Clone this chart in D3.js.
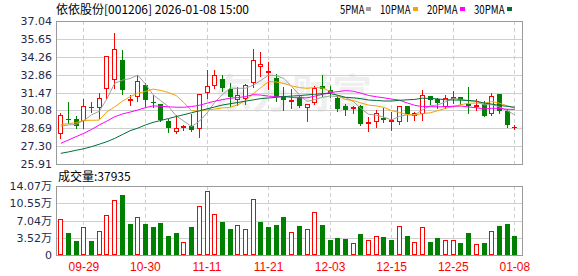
<!DOCTYPE html>
<html>
<head>
<meta charset="utf-8">
<script src="https://cdn.jsdelivr.net/npm/d3@7"></script>
<style>
  body { margin: 0; background: #fff; }
  svg { display: block; }
</style>
</head>
<body>
<div id="chart"></div>
<script>
const dates = ['09-24','09-25','09-26','09-29','10-21','10-22','10-23','10-24','10-27','10-28',
  '10-29','10-30','10-31','11-03','11-04','11-05','11-06','11-07','11-10','11-11',
  '11-12','11-13','11-14','11-17','11-18','11-19','11-20','11-21','11-24','11-25',
  '11-26','11-27','11-28','12-01','12-02','12-03','12-04','12-05','12-08','12-09',
  '12-10','12-11','12-12','12-15','12-16','12-17','12-18','12-19','12-22','12-23',
  '12-24','12-25','12-26','12-29','12-30','12-31','01-05','01-06','01-07','01-08'];
const opens = [28.22,29.45,29.39,29.26,30.38,30.24,31.77,32.42,34.00,30.79,
  31.13,32.06,30.70,30.55,29.26,28.43,28.74,28.87,28.61,31.44,
  31.98,32.53,31.75,30.92,30.94,32.19,33.49,32.97,32.63,31.20,
  30.71,31.15,30.30,30.63,31.98,31.64,31.07,30.43,30.22,30.43,
  29.00,29.21,29.52,29.15,29.21,30.40,29.65,29.83,31.18,30.94,
  30.35,31.00,31.13,30.61,30.35,30.55,29.78,31.33,30.04,28.78];
const highs = [29.91,30.74,29.65,30.94,30.74,31.46,34.35,36.13,34.76,31.28,
  32.84,32.24,31.28,30.60,29.39,29.72,28.95,29.78,31.39,33.23,
  33.23,32.84,32.19,31.88,32.11,34.86,34.60,33.88,32.92,31.88,
  31.72,31.20,30.55,31.96,32.84,31.96,31.18,30.55,30.40,30.50,
  29.57,30.09,30.24,29.98,30.43,30.43,29.98,31.64,31.20,31.02,
  31.28,31.59,31.13,31.90,30.94,30.81,31.44,31.33,30.17,28.95];
const lows = [27.91,29.13,28.69,28.74,29.96,29.52,31.07,31.85,31.39,30.50,
  30.81,30.43,30.37,29.26,28.43,28.35,28.53,28.48,28.04,31.07,
  31.85,31.62,30.40,30.50,30.61,31.93,32.79,31.72,30.84,30.11,
  30.30,30.37,29.26,30.55,31.20,31.15,30.04,29.72,29.91,28.95,
  28.48,28.79,29.21,28.56,29.05,29.26,29.34,29.34,30.61,30.24,
  30.24,30.68,30.55,29.91,30.09,29.67,29.72,29.91,28.79,28.61];
const closes = [29.70,29.38,28.87,30.40,30.33,31.07,34.29,34.84,31.64,30.97,
  32.37,30.87,30.63,29.31,28.74,28.69,28.84,28.53,31.39,31.96,
  32.84,31.80,31.10,31.28,32.03,34.00,33.67,33.15,31.10,30.88,
  30.92,30.45,30.55,31.85,31.72,31.46,30.20,30.15,30.37,29.00,
  29.18,29.85,29.36,29.30,30.40,29.78,29.85,31.28,30.92,30.68,
  31.07,31.12,30.87,30.43,30.47,29.67,31.18,30.04,28.95,28.80];
const volumes = [72700,45600,29200,56400,29200,48200,80900,111500,122300,63200,
  76800,63200,57100,65300,38700,45600,26500,57100,99200,129800,
  83600,67300,53000,60500,52300,113500,67300,57100,61200,77500,
  46900,59100,53000,87700,61200,30600,34700,32600,24500,42800,
  30600,38100,36700,30600,59100,38700,26500,56400,26500,34700,
  30600,30600,24500,44900,22400,24500,48200,59100,63200,37935];

const ma5Head = [28.85,28.95,29.00,29.30];
const ma10Head = [28.98,29.05,29.13,29.31,29.31,29.33,29.98,30.35,30.80];
const ma20Head = [27.52,27.78,28.04,28.30,28.60,28.95,29.25,29.59,29.80,29.95,
  30.11,30.30,30.43,30.40,30.36,30.33,30.33,30.38,30.48];
const ma30Head = [26.74,26.85,26.98,27.10,27.26,27.45,27.65,27.90,28.20,28.50,
  28.70,28.95,29.15,29.30,29.45,29.60,29.75,29.90,30.05,30.20,
  30.35,30.50,30.60,30.70,30.80,30.90,31.00,31.05,31.10];

const priceTicks = [25.91,27.30,28.69,30.08,31.47,32.86,34.26,35.65,37.04];
const volTicks = [0,35175,70350,105525,140700];
const volTickLabels = ['0','3.52万','7.04万','10.55万','14.07万'];
const tickDates = ['09-29','10-30','11-11','11-21','12-03','12-15','12-25','01-08'];
const maSeries = [
  {name: '5PMA', n: 5, head: ma5Head, color: '#a0a0a0'},
  {name: '10PMA', n: 10, head: ma10Head, color: '#f5a300'},
  {name: '20PMA', n: 20, head: ma20Head, color: '#ff00ff'},
  {name: '30PMA', n: 30, head: ma30Head, color: '#00703a'}
];

const width = 578, height = 276;
const left = 56, right = 522;
const pTop = 21, pBot = 164, vTop = 186, vBot = 255;
const RED = '#ff0000', GREEN = '#008000';
const GRID = '#cfcfcf', BORDER = '#9a9a9a';

const rows = dates.map((d, i) => ({
  date: d, o: opens[i], h: highs[i], l: lows[i], c: closes[i], v: volumes[i],
  volUp: i === 0 ? closes[i] >= opens[i] : closes[i] >= closes[i - 1]
}));

const svg = d3.select('#chart').append('svg')
  .attr('width', width).attr('height', height)
  .style('font-family', '"Liberation Sans", Arial, sans-serif');

const x = d3.scalePoint().domain(dates).range([left + 4.3, right - 7.7]);
const y = d3.scaleLinear().domain([25.91, 37.04]).range([pBot, pTop]);
const yv = d3.scaleLinear().domain([0, 140700]).range([vBot, vTop]);
const cx = d => Math.round(x(d.date));

// header
svg.append('text').attr('x', 56).attr('y', 14)
  .style('font-family', '"Noto Sans CJK SC", sans-serif').style('font-size', '12px')
  .text('依依股份[001206] 2026-01-08 15:00');

// legend, half-width glyphs like the original bitmap font
let lx = 340;
maSeries.forEach(s => {
  const w = s.name.length * 6.1;
  svg.append('text').attr('x', lx).attr('y', 14)
    .attr('textLength', w).attr('lengthAdjust', 'spacingAndGlyphs')
    .style('font-family', '"Noto Sans CJK SC", sans-serif').style('font-size', '12px')
    .text(s.name);
  const sx = Math.round(lx + w + 2);
  svg.append('rect').attr('x', sx).attr('y', 7)
    .attr('width', 5).attr('height', 4).attr('fill', s.color);
  lx = sx + 5 + 9;
});

// watermark
svg.append('text').attr('x', 212).attr('y', 108)
  .style('font-family', '"Noto Sans CJK SC", sans-serif').style('font-size', '40px')
  .style('font-weight', 'bold').attr('fill', '#efefef')
  .text('东方财富');

// grids
function panel(top, bot, ticks, scale) {
  const gg = svg.append('g').attr('shape-rendering', 'crispEdges');
  gg.selectAll('line.h').data(ticks).join('line')
    .attr('x1', left).attr('x2', right)
    .attr('y1', d => Math.round(scale(d)) + 0.5).attr('y2', d => Math.round(scale(d)) + 0.5)
    .attr('stroke', GRID);
  gg.selectAll('line.v').data(tickDates).join('line')
    .attr('x1', d => Math.round(x(d)) + 0.5).attr('x2', d => Math.round(x(d)) + 0.5)
    .attr('y1', top).attr('y2', bot)
    .attr('stroke', GRID).attr('stroke-dasharray', '4,3');
  gg.append('rect').attr('x', left + 0.5).attr('y', top + 0.5)
    .attr('width', right - left).attr('height', bot - top)
    .attr('fill', 'none').attr('stroke', BORDER);
}
panel(pTop, pBot, priceTicks, y);
panel(vTop, vBot, volTicks, yv);

// axes labels
const yAxis = d3.axisLeft(y).tickValues(priceTicks).tickSize(0).tickPadding(4)
  .tickFormat(d => d.toFixed(2));
svg.append('g').attr('transform', `translate(${left},0)`).call(yAxis)
  .call(g => g.select('.domain').remove())
  .selectAll('text').style('font-family', '"DejaVu Sans", sans-serif')
  .style('font-size', '11px').attr('fill', '#1c2a4e');

const vAxis = d3.axisLeft(yv).tickValues(volTicks).tickSize(0).tickPadding(4)
  .tickFormat((d, i) => volTickLabels[i]);
svg.append('g').attr('transform', `translate(${left},0)`).call(vAxis)
  .call(g => g.select('.domain').remove())
  .selectAll('text').style('font-family', '"DejaVu Sans", "Noto Sans CJK SC", sans-serif')
  .style('font-size', '11px').attr('fill', '#1c2a4e');

const xAxis = d3.axisBottom(x).tickValues(tickDates).tickSize(0).tickPadding(7);
svg.append('g').attr('transform', `translate(0,${vBot})`).call(xAxis)
  .call(g => g.select('.domain').remove())
  .selectAll('text').style('font-family', '"Liberation Sans", Arial, sans-serif')
  .style('font-size', '12px').attr('fill', RED);

svg.append('text').attr('x', 58).attr('y', 181)
  .style('font-family', '"Noto Sans CJK SC", sans-serif').style('font-size', '12px')
  .text('成交量:' + volumes[volumes.length - 1]);

// candles
const cg = svg.append('g').attr('shape-rendering', 'crispEdges');
cg.selectAll('line.wick').data(rows).join('line')
  .attr('x1', d => cx(d) + 0.5).attr('x2', d => cx(d) + 0.5)
  .attr('y1', d => Math.round(y(d.h))).attr('y2', d => Math.round(y(d.l)) + 1)
  .attr('stroke', d => d.c >= d.o ? RED : GREEN);
cg.selectAll('rect.body').data(rows).join('rect')
  .each(function(d) {
    const top = Math.round(y(Math.max(d.o, d.c)));
    const bot = Math.round(y(Math.min(d.o, d.c)));
    const r = d3.select(this);
    if (d.c >= d.o && bot - top >= 2) {
      r.attr('x', cx(d) - 1.5).attr('y', top + 0.5).attr('width', 4).attr('height', bot - top - 1)
        .attr('fill', '#fff').attr('stroke', RED);
    } else {
      r.attr('x', cx(d) - 2).attr('y', top).attr('width', 5).attr('height', Math.max(1, bot - top))
        .attr('fill', d.c >= d.o ? RED : GREEN);
    }
  });

// moving averages
maSeries.forEach(s => {
  const vals = closes.map((c, i) => i < s.n - 1 ? s.head[i] : d3.mean(closes.slice(i - s.n + 1, i + 1)));
  svg.append('path')
    .datum(vals)
    .attr('fill', 'none').attr('stroke', s.color).attr('stroke-width', 1)
    .attr('d', d3.line().x((v, i) => x(dates[i]) + 0.5).y(v => y(v)));
});

// volume bars
const vg = svg.append('g').attr('shape-rendering', 'crispEdges');
vg.selectAll('rect.vol').data(rows).join('rect')
  .each(function(d) {
    const top = Math.round(yv(d.v));
    const r = d3.select(this);
    if (d.volUp) {
      r.attr('x', cx(d) - 1.5).attr('y', top + 0.5).attr('width', 4).attr('height', vBot - top - 1)
        .attr('fill', '#fff').attr('stroke', RED);
    } else {
      r.attr('x', cx(d) - 2).attr('y', top).attr('width', 5).attr('height', vBot - top)
        .attr('fill', GREEN);
    }
  });
</script>
</body>
</html>
